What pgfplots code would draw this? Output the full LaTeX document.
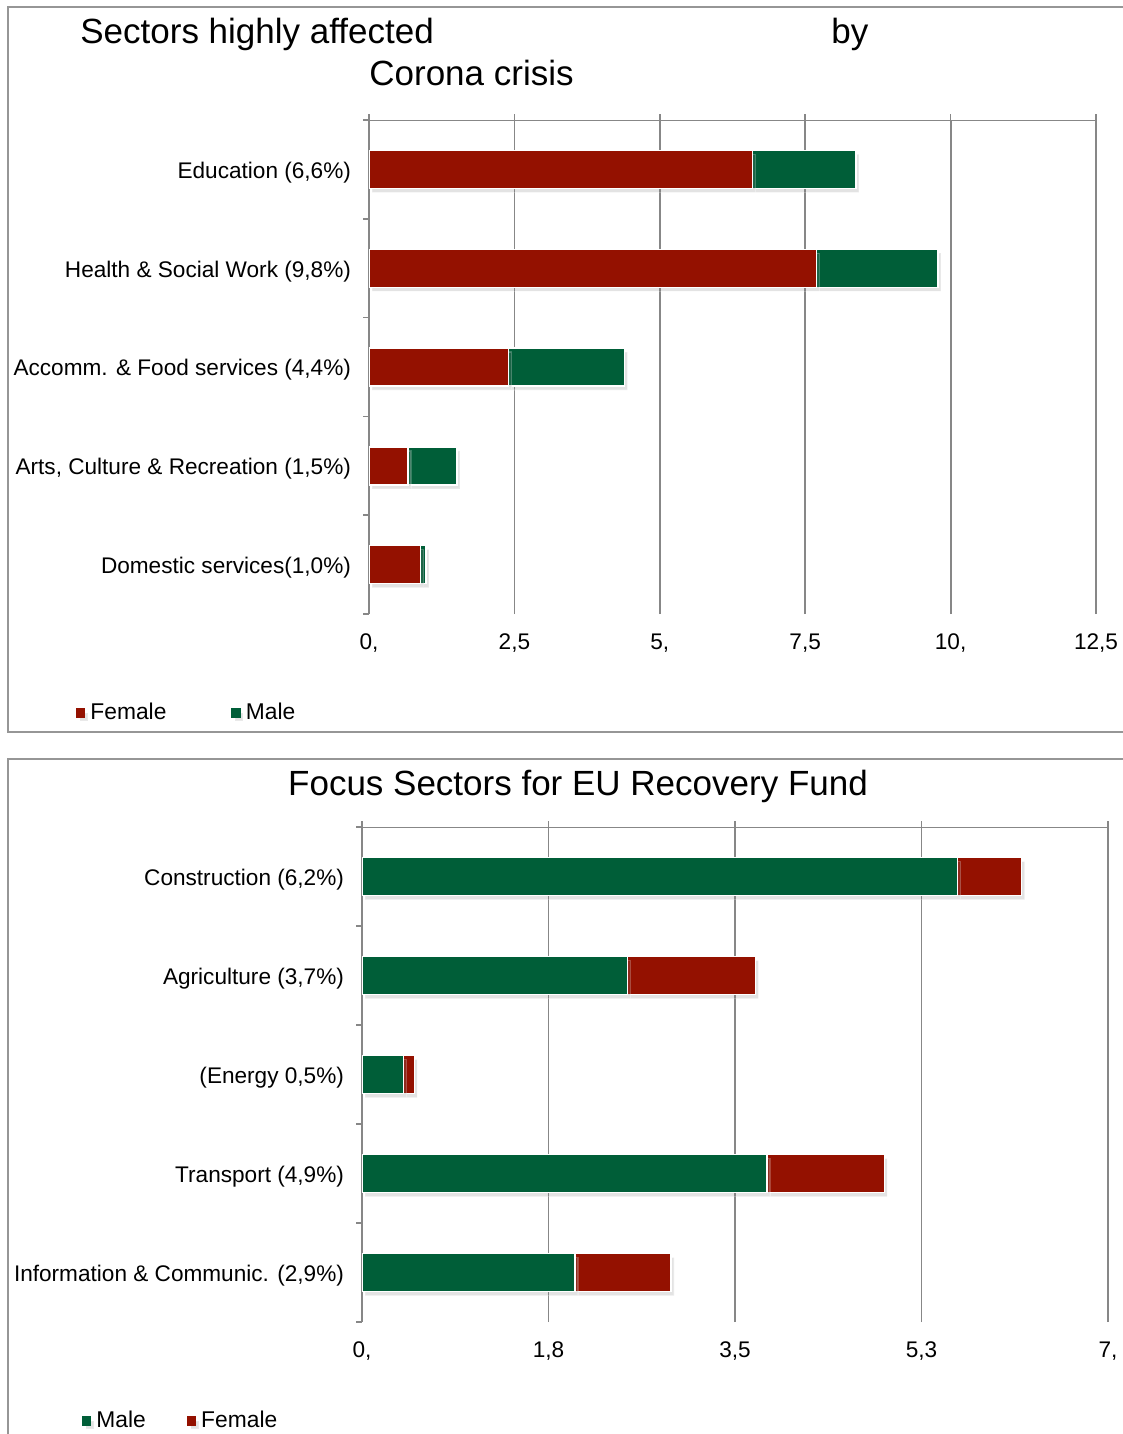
\documentclass[border=0pt]{standalone}
\usepackage{fontspec}
\setmainfont{Liberation Sans}
\usepackage{pgfplots}
\pgfplotsset{compat=1.18}
\usetikzlibrary{shadows}
\definecolor{cred}{RGB}{148,17,0}
\definecolor{cgreen}{RGB}{0,94,56}
\definecolor{gridc}{RGB}{135,135,135}
\definecolor{framec}{RGB}{150,150,150}

\pgfplotsset{
  sector/.style={
    scale only axis,
    xbar stacked,
    bar width=19pt,
    ymin=-0.5, ymax=4.5,
    ytick={0,...,4},
    minor ytick={-0.5,0.5,...,4.5},
    major y tick style={draw=none},
    minor y tick style={gridc, line width=0.8pt},
    major x tick style={gridc, line width=0.8pt},
    tick align=outside,
    major tick length=3pt, minor tick length=3pt,
    xtick pos=upper, xticklabel pos=lower, ytick pos=left,
    xmajorgrids, grid style={gridc, line width=0.9pt},
    axis line style={draw=none},
    tick label style={font=\fontsize{11.3}{13}\selectfont},
    xticklabel style={yshift=-3.5pt},
    yticklabel style={xshift=-2.5pt, yshift=-1.5pt},
    legend style={draw=none, fill=none, inner sep=0pt, outer sep=0pt,
      font=\fontsize{11.4}{13}\selectfont, legend columns=2, anchor=west,
      nodes={inner xsep=2.5pt, inner ysep=1pt}},
    legend cell align=left,
  },
  seg/.style={fill=#1, draw=white, line width=0.7pt,
    drop shadow={opacity=0.22, shadow xshift=1.5pt, shadow yshift=-2pt},
    legend image code/.code={\fill[#1] (0pt,-2pt) rectangle (4pt,2pt);}},
}

\begin{document}
\begin{tikzpicture}
\useasboundingbox (0,0) rectangle (561.5pt,-717pt);

% frames
\draw[framec, line width=1pt] (570pt,-3.75pt) -- (3.75pt,-3.75pt) -- (3.75pt,-366pt) -- (570pt,-366pt);
\draw[framec, line width=1pt] (570pt,-379.5pt) -- (3.75pt,-379.5pt) -- (3.75pt,-730pt);

% titles
\node[anchor=base west, font=\fontsize{17.5}{20}\selectfont, inner sep=0pt] at (40pt,-22pt) {Sectors highly affected};
\node[anchor=base west, font=\fontsize{17.5}{20}\selectfont, inner sep=0pt] at (415.5pt,-22pt) {by};
\node[anchor=base west, font=\fontsize{17.5}{20}\selectfont, inner sep=0pt] at (184.5pt,-43pt) {Corona crisis};
\node[anchor=base, font=\fontsize{17.5}{20}\selectfont, inner sep=0pt] at (289pt,-397.5pt) {Focus Sectors for EU Recovery\ Fund};

\begin{axis}[sector,
  at={(184.5pt,-307pt)}, anchor=south west,
  width=363.5pt, height=247pt,
  xmin=0, xmax=12.5,
  xtick={0,2.5,5,7.5,10,12.5},
  xticklabels={{0,},{2,5},{5,},{7,5},{10,},{12,5}},
  yticklabels={{Domestic services(1,0\%)},{Arts, Culture \& Recreation (1,5\%)},{Accomm. \& Food services (4,4\%)},{Health \& Social Work (9,8\%)},{Education (6,6\%)}},
  legend style={at={(-0.403,-0.2)}, /tikz/every even column/.append style={column sep=30pt}},
]
\addplot[seg=cred] coordinates {(0.89,0) (0.67,1) (2.40,2) (7.69,3) (6.59,4)};
\addplot[seg=cgreen] coordinates {(0.09,0) (0.84,1) (1.99,2) (2.09,3) (1.78,4)};
\legend{Female,Male}
\draw[gridc, line width=0.9pt] (rel axis cs:0,1) -- (rel axis cs:1,1);
\draw[gridc, line width=0.9pt] (rel axis cs:0,0) -- (rel axis cs:0,1);
\end{axis}

\begin{axis}[sector,
  at={(181pt,-661pt)}, anchor=south west,
  width=373pt, height=247.5pt,
  xmin=0, xmax=7,
  xtick={0,1.75,3.5,5.25,7},
  xticklabels={{0,},{1,8},{3,5},{5,3},{7,}},
  yticklabels={{Information \& Communic. (2,9\%)},{Transport (4,9\%)},{(Energy 0,5\%)},{Agriculture (3,7\%)},{Construction (6,2\%)}},
  legend style={at={(-0.3753,-0.2)}, /tikz/every even column/.append style={column sep=18pt}},
]
\addplot[seg=cgreen] coordinates {(2.00,0) (3.80,1) (0.39,2) (2.49,3) (5.59,4)};
\addplot[seg=cred] coordinates {(0.90,0) (1.10,1) (0.10,2) (1.20,3) (0.60,4)};
\legend{Male,Female}
\draw[gridc, line width=0.9pt] (rel axis cs:0,1) -- (rel axis cs:1,1);
\draw[gridc, line width=0.9pt] (rel axis cs:0,0) -- (rel axis cs:0,1);
\end{axis}
\end{tikzpicture}
\end{document}
